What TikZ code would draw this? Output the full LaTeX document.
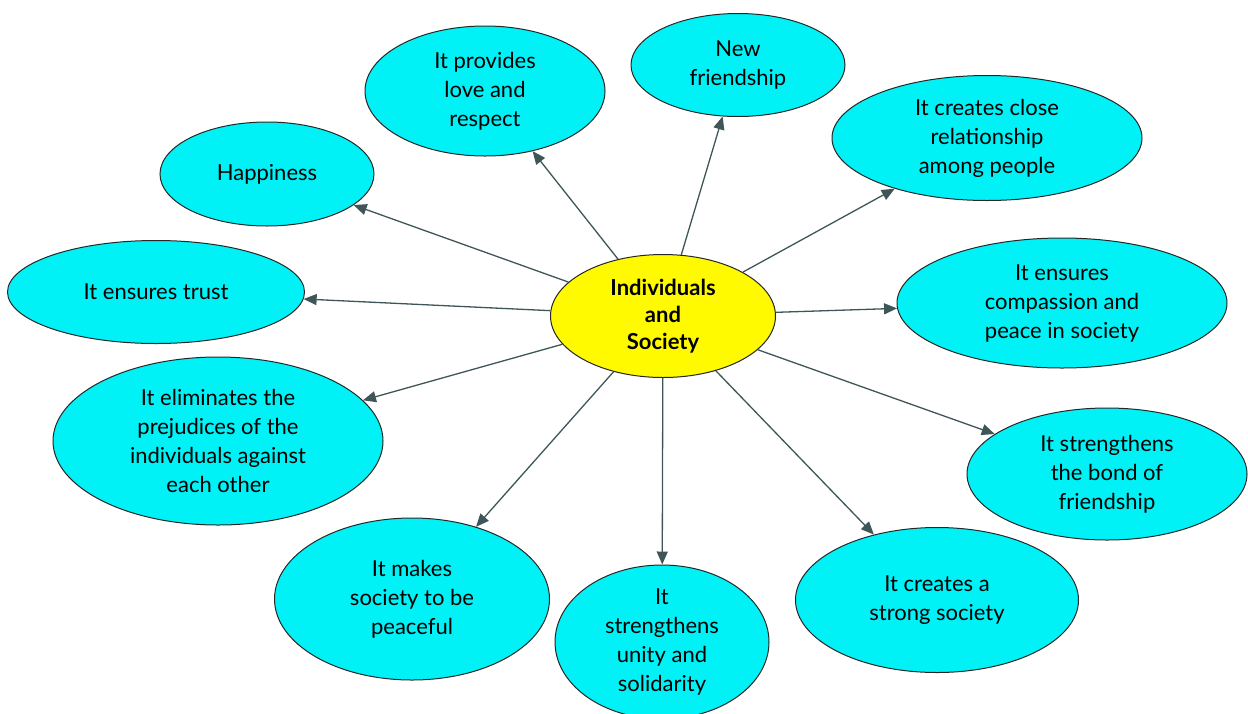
\documentclass[tikz,border=0pt]{standalone}
\usepackage{fontspec}
\setmainfont{Lato}
\usetikzlibrary{shapes.geometric,arrows.meta}
\definecolor{bubble}{RGB}{0,242,246}
\definecolor{hubfill}{RGB}{255,250,0}
\definecolor{linkcol}{RGB}{62,86,88}
\def\lw{1.3pt}
\def\rim{1pt}

\begin{document}
\begin{tikzpicture}[x=1pt,y=-1pt,
  idea/.style={ellipse,draw=black!85,line width=\rim,fill=bubble,inner sep=0pt,
    align=center,font=\fontsize{22}{29}\selectfont},
  hub/.style={idea,fill=hubfill,font=\fontsize{22}{27}\selectfont\bfseries},
  link/.style={-{Triangle[length=13pt,width=11pt]},draw=linkcol,line width=\lw}]

\useasboundingbox (0,0) rectangle (1248,713);

\node[hub,minimum width=225pt,minimum height=123pt] (core) at (663,316) {Individuals\\and\\Society};

\node[idea,minimum width=214pt,minimum height=104pt] (happy) at (267,174) {Happiness};
\node[idea,minimum width=240pt,minimum height=130pt] (love) at (485,91) {It provides\\love and\\respect};
\node[idea,minimum width=214pt,minimum height=103pt] (friend) at (738,65) {New\\friendship};
\node[idea,minimum width=310pt,minimum height=125pt] (close) at (987,138) {It creates close\\relationship\\among people};
\node[idea,minimum width=330pt,minimum height=130pt] (peace) at (1062,303) {It ensures\\compassion and\\peace in society};
\node[idea,minimum width=280pt,minimum height=132pt] (bond) at (1107,474) {It strengthens\\the bond of\\friendship};
\node[idea,minimum width=283pt,minimum height=145pt] (strong) at (937,600) {It creates a\\strong society};
\node[idea,minimum width=214pt,minimum height=154pt] (unity) at (662,642) {It\\strengthens\\unity and\\solidarity};
\node[idea,minimum width=275pt,minimum height=162pt] (calm) at (412,599) {It makes\\society to be\\peaceful};
\node[idea,minimum width=330pt,minimum height=168pt] (prej) at (218,441) {It eliminates the\\prejudices of the\\individuals against\\each other};
\node[idea,minimum width=297pt,minimum height=103pt] (trust) at (156,292) {It ensures trust};

\foreach \t in {happy,love,friend,close,peace,bond,strong,unity,calm,prej,trust}{
    \draw[link] (core) -- (\t);
}

\end{tikzpicture}
\end{document}
